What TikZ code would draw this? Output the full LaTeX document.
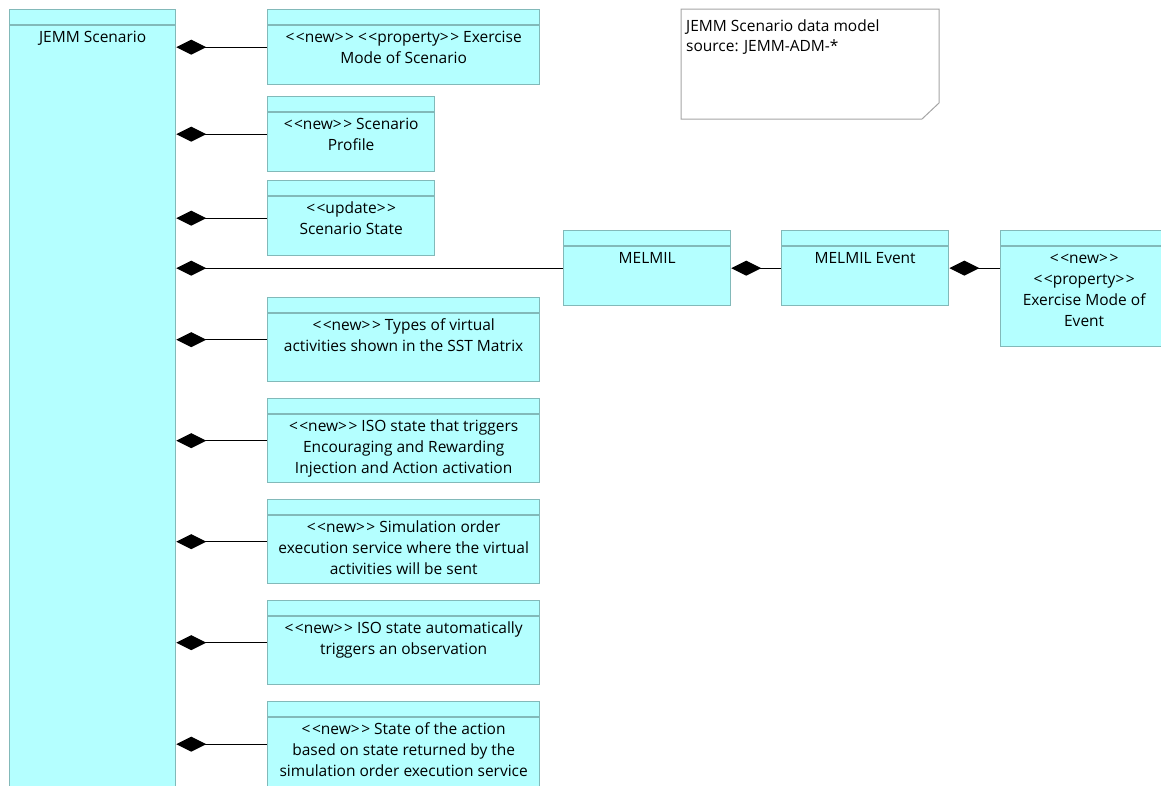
\documentclass[tikz,border=0pt]{standalone}
\usepackage{fontspec}
\setmainfont{Open Sans}
\usetikzlibrary{arrows.meta}
\definecolor{clsfill}{RGB}{180,255,255}
\definecolor{clsdraw}{RGB}{130,185,185}
\definecolor{notedraw}{RGB}{165,165,165}
\newcommand\stp[1]{<\kern1.5pt<#1>\kern1.5pt>}
\tikzset{
  cls/.style={draw=clsdraw, fill=clsfill, line width=1.3pt, rectangle, inner sep=0pt, anchor=north west},
  hdr/.style={draw=clsdraw, line width=1.3pt},
  lbl/.style={align=center, inner sep=0pt, anchor=north, font=\fontsize{15.5}{21}\selectfont},
  comp/.style={draw=black, line width=1.3pt, {Diamond[length=30pt,width=15pt]}-},
}
\newcommand\umlcls[6]{%
  \node[cls, minimum width=#4pt, minimum height=#5pt] (#1) at (#2,#3) {};
  \draw[hdr] ([yshift=-16pt]#1.north west) -- ([yshift=-16pt]#1.north east);
  \node[lbl] (#1t) at ([yshift=-19pt]#1.north) {\strut #6};
}
\begin{document}
\begin{tikzpicture}[x=1pt,y=-1pt]
\useasboundingbox (0,0) rectangle (1161,785);
\umlcls{jemm}{9}{9}{166}{781}{JEMM Scenario}
\umlcls{b1}{267}{9}{272}{75}{\stp{new} \stp{property} Exercise\\ Mode of Scenario}
\umlcls{b2}{267}{96}{167}{75}{\stp{new} Scenario\\ Profile}
\umlcls{b3}{267}{180}{167}{75}{\stp{update}\\ Scenario State}
\umlcls{b4}{267}{297}{272}{84}{\stp{new} Types of virtual\\ activities shown in the SST Matrix}
\umlcls{b5}{267}{398}{272}{84}{\stp{new} ISO state that triggers\\ Encouraging and Rewarding\\ Injection and Action activation}
\umlcls{b6}{267}{499}{272}{84}{\stp{new} Simulation order\\ execution service where the virtual\\ activities will be sent}
\umlcls{b7}{267}{600}{272}{84}{\stp{new} ISO state automatically\\ triggers an observation}
\umlcls{b8}{267}{701}{272}{85}{\stp{new} State of the action\\ based on state returned by the\\ simulation order execution service}
\umlcls{melmil}{563}{230}{167}{75}{MELMIL}
\umlcls{mev}{781}{230}{167}{75}{MELMIL Event}
\umlcls{exm}{1000}{230}{167}{116}{\stp{new}\\ \stp{property}\\ Exercise Mode of\\ Event}
% connectors
\foreach \t in {b1,b2,b3,b4,b5,b6,b7,b8,melmil}
  \draw[comp] (jemm.east |- \t.west) -- (\t.west);
\draw[comp] (melmil.east) -- (mev.west);
\draw[comp] (mev.east) -- (exm.west |- mev.east);
% note
\draw[draw=notedraw, fill=white, line width=1pt] (681,9) -- (939,9) -- (939,103) -- (922,119) -- (681,119) -- cycle;
\node[inner sep=0pt, anchor=north west, align=left, font=\fontsize{15.5}{20}\selectfont] (note) at (686,17.5) {\strut JEMM Scenario data model\\ source: JEMM-ADM-*};
\end{tikzpicture}
\end{document}
